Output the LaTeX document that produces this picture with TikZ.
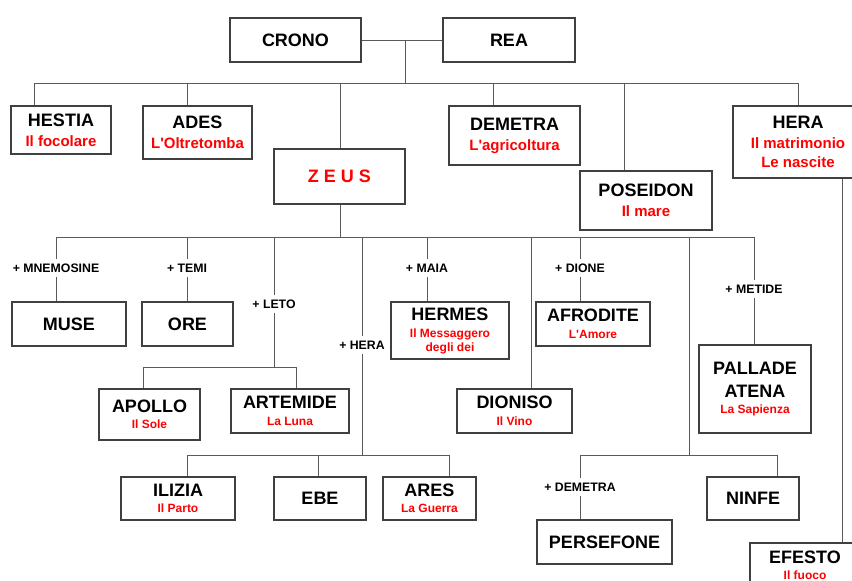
\documentclass[tikz,border=0pt]{standalone}
\usepackage{fontspec}
\setmainfont{Liberation Sans}[Ligatures=TeXOff]
\definecolor{wirecol}{RGB}{90,90,90}
\definecolor{framecol}{RGB}{64,64,64}
\definecolor{attrcol}{RGB}{255,0,0}
\newcommand\godname[1]{{\fontsize{18}{20}\selectfont #1}}
\newcommand\attrib[1]{\textcolor{attrcol}{#1}}
\tikzset{
  god/.style={draw=framecol, line width=1.05pt, fill=white, inner sep=0pt,
    align=center, font=\bfseries\fontsize{18}{20}\selectfont},
  godbig/.style={god, font=\bfseries\fontsize{15}{19}\selectfont},
  godsmall/.style={god, font=\bfseries\fontsize{12}{14}\selectfont},
  wire/.style={draw=wirecol, line width=1pt},
  spouse/.style={fill=white, inner xsep=1pt, inner ysep=5pt,
    font=\bfseries\fontsize{12.3}{14}\selectfont},
}
\begin{document}
\begin{tikzpicture}[x=1pt,y=-1pt]
\useasboundingbox (0,0) rectangle (852,581);
\clip (0,0) rectangle (852,581);
\fill[white] (0,0) rectangle (852,581);

% ---- junction points of the family lines ----
\coordinate (wed)  at (405,40);
\coordinate (kids) at (405,83);
\coordinate (b1) at (34,83);
\coordinate (b2) at (187,83);
\coordinate (b3) at (340,83);
\coordinate (b4) at (493,83);
\coordinate (b5) at (624,83);
\coordinate (b6) at (798,83);
\coordinate (zs) at (340,237);
\coordinate (c1) at (56,237);
\coordinate (c2) at (187,237);
\coordinate (c3) at (274,237);
\coordinate (c4) at (362,237);
\coordinate (c5) at (427,237);
\coordinate (c6) at (531,237);
\coordinate (c7) at (580,237);
\coordinate (c8) at (689,237);
\coordinate (c9) at (754,237);
\coordinate (l0) at (274,367);
\coordinate (l1) at (143,367);
\coordinate (l2) at (296,367);
\coordinate (h0) at (362,455);
\coordinate (h1) at (187,455);
\coordinate (h2) at (318,455);
\coordinate (h3) at (449,455);
\coordinate (d0) at (689,455);
\coordinate (d1) at (580,455);
\coordinate (d2) at (777,455);
\coordinate (hf) at (842,0);

% ---- first generation ----
\node[god, minimum width=131pt, minimum height=44pt] (crono) at (295.5,40) {CRONO};
\node[god, minimum width=132pt, minimum height=44pt] (rea) at (509,40) {REA};

% ---- children of Crono and Rea ----
\node[godbig, minimum width=100pt, minimum height=48pt] (hestia) at (61,130)
  {\godname{HESTIA}\\[1pt]\attrib{Il focolare}};
\node[godbig, minimum width=109pt, minimum height=53pt] (ades) at (197.5,132.5)
  {\godname{ADES}\\[1pt]\attrib{L'Oltretomba}};
\node[god, minimum width=131pt, minimum height=55pt] (zeus) at (339.5,176.5)
  {\attrib{Z E U S}};
\node[godbig, minimum width=131pt, minimum height=59pt] (demetra) at (514.5,135.5)
  {\godname{DEMETRA}\\[1pt]\attrib{L'agricoltura}};
\node[godbig, minimum width=132pt, minimum height=59pt] (poseidon) at (646,200.5)
  {\godname{POSEIDON}\\[1pt]\attrib{Il mare}};
\node[godbig, minimum width=130pt, minimum height=72pt] (hera) at (798,142)
  {\godname{HERA}\\[1pt]\attrib{Il matrimonio}\\\attrib{Le nascite}};

% ---- children of Zeus ----
\node[god, minimum width=114pt, minimum height=44pt] (muse) at (69,324) {MUSE};
\node[god, minimum width=91pt, minimum height=44pt] (ore) at (187.5,324) {ORE};
\node[godsmall, minimum width=101pt, minimum height=51pt] (apollo) at (149.5,414.5)
  {\godname{APOLLO}\\[2.5pt]\attrib{Il Sole}};
\node[godsmall, minimum width=118pt, minimum height=44pt] (artemide) at (290,411)
  {\godname{ARTEMIDE}\\[2.5pt]\attrib{La Luna}};
\node[godsmall, minimum width=118pt, minimum height=57pt] (hermes) at (450,330.5)
  {\godname{HERMES}\\[3pt]\attrib{Il Messaggero}\\\attrib{degli dei}};
\node[godsmall, minimum width=115pt, minimum height=44pt] (dioniso) at (514.5,411)
  {\godname{DIONISO}\\[3pt]\attrib{Il Vino}};
\node[godsmall, minimum width=114pt, minimum height=44pt] (afrodite) at (593,324)
  {\godname{AFRODITE}\\[2.5pt]\attrib{L'Amore}};
\node[godsmall, minimum width=112pt, minimum height=88pt] (pallade) at (755,389)
  {\godname{PALLADE}\\[8.5pt]\godname{ATENA}\\[2pt]\attrib{La Sapienza}};
\node[godsmall, minimum width=114pt, minimum height=43pt] (ilizia) at (178,498.5)
  {\godname{ILIZIA}\\[2pt]\attrib{Il Parto}};
\node[god, minimum width=92pt, minimum height=43pt] (ebe) at (320,498.5) {EBE};
\node[godsmall, minimum width=93pt, minimum height=43pt] (ares) at (429.5,498.5)
  {\godname{ARES}\\[2pt]\attrib{La Guerra}};
\node[god, minimum width=135pt, minimum height=44pt] (persefone) at (604.5,542) {PERSEFONE};
\node[god, minimum width=92pt, minimum height=43pt] (ninfe) at (753,498.5) {NINFE};
\node[godsmall, minimum width=110pt, minimum height=45pt] (efesto) at (805,565.5)
  {\godname{EFESTO}\\[1.5pt]\attrib{Il fuoco}};

% ---- connectors ----
\draw[wire] (crono) -- (rea);
\draw[wire] (wed) -- (kids);
\draw[wire] (b1) -- (b6);
\draw[wire] (b1) -- (b1 |- hestia.north);
\draw[wire] (b2) -- (b2 |- ades.north);
\draw[wire] (b3) -- (b3 |- zeus.north);
\draw[wire] (b4) -- (b4 |- demetra.north);
\draw[wire] (b5) -- (b5 |- poseidon.north);
\draw[wire] (b6) -- (b6 |- hera.north);

\draw[wire] (zs |- zeus.south) -- (zs);
\draw[wire] (c1) -- (c9);
\draw[wire] (c1) -- (c1 |- muse.north);
\draw[wire] (c2) -- (c2 |- ore.north);
\draw[wire] (c3) -- (l0);
\draw[wire] (l1) -- (l2);
\draw[wire] (l1) -- (l1 |- apollo.north);
\draw[wire] (l2) -- (l2 |- artemide.north);
\draw[wire] (c4) -- (h0);
\draw[wire] (h1) -- (h3);
\draw[wire] (h1) -- (h1 |- ilizia.north);
\draw[wire] (h2) -- (h2 |- ebe.north);
\draw[wire] (h3) -- (h3 |- ares.north);
\draw[wire] (c5) -- (c5 |- hermes.north);
\draw[wire] (c6) -- (c6 |- dioniso.north);
\draw[wire] (c7) -- (c7 |- afrodite.north);
\draw[wire] (c8) -- (d0);
\draw[wire] (d1) -- (d2);
\draw[wire] (d1) -- (d1 |- persefone.north);
\draw[wire] (d2) -- (d2 |- ninfe.north);
\draw[wire] (c9) -- (c9 |- pallade.north);
\draw[wire] (hera.south -| hf) -- (efesto.north -| hf);

% ---- consorts on the lines ----
\node[spouse] (mnemosine) at (56,268) {+ MNEMOSINE};
\node[spouse] (temi) at (187,268) {+ TEMI};
\node[spouse] (leto) at (274,304) {+ LETO};
\node[spouse] (herac) at (362,345) {+ HERA};
\node[spouse] (maia) at (427,268) {+ MAIA};
\node[spouse] (dione) at (580,268) {+ DIONE};
\node[spouse] (metide) at (754,289) {+ METIDE};
\node[spouse] (demetrac) at (580,487) {+ DEMETRA};
\end{tikzpicture}
\end{document}
